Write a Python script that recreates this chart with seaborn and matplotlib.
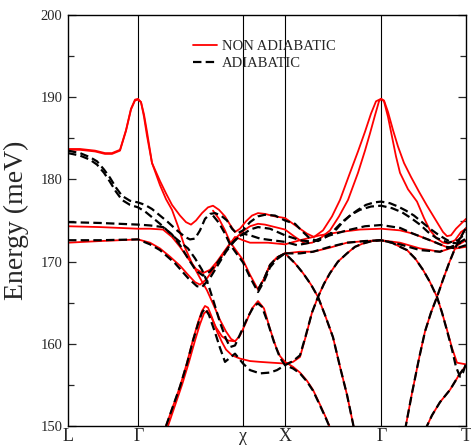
import numpy as np
import pandas as pd
import matplotlib
matplotlib.use("Agg")
import matplotlib.pyplot as plt
import seaborn as sns

# ---- k-path (positions along the path, in plot units) ----
kpoint_pos = [68, 138.3, 243.3, 284.7, 381.3, 466]
kpoint_labels = ["L", "Γ", "χ", "X", "Γ", "T"]
series_names = ["NON ADIABATIC", "ADIABATIC"]

# ---- NON ADIABATIC (red) bands ----
R1_x = [68,80,95,105,112,120,126,131,135,138,141,144,147,152,160,166,172,180,186,191,196,202,208,213,219,225,230,235,240,246,252,258,265,275,285,293,300,307,314,323,332,340,350,358,365,371,376,381,384,388,393,398,404,411,419,427,435,443,447,451,456,461,466]
R1_E = [183.7,183.7,183.5,183.2,183.2,183.6,186.0,188.6,189.7,189.8,189.4,187.9,185.8,182.0,179.8,178.3,176.9,175.6,174.8,174.5,175.0,175.9,176.6,176.8,176.3,175.5,174.5,173.6,174.0,174.9,175.6,175.9,175.8,175.5,175.3,174.6,174.0,173.4,173.0,173.8,175.5,177.5,180.8,183.4,185.8,188.0,189.5,189.8,189.6,188.2,186.0,184.0,182.0,180.3,178.5,176.8,175.2,173.6,173.1,173.2,174.0,174.6,175.2]

R2_x = [68,80,95,105,112,120,126,131,135,138,141,144,147,152,160,166,172,178,185,192,200,207,214,220,226,231,235,240,246,252,258,264,270,276,280,285,293,300,307,313,320,326,331]
R2_E = [183.6,183.6,183.4,183.1,183.1,183.5,185.9,188.5,189.6,189.7,189.4,187.6,185.3,182.0,179.3,177.6,176.3,174.3,171.7,169.8,168.0,166.5,164.6,162.9,161.5,160.6,160.3,161.0,162.6,164.3,165.2,164.3,161.8,159.6,158.5,157.8,157.2,156.5,155.5,154.4,152.6,151.0,149.5]

R3_x = [68,100,138,150,163,172,180,188,196,203,210,217,224,230,237,243,250,258,265,275,285,295,305,312,320,330,339,348,358,365,370,375,379,381,384,388,392,396,400,408,417,424,430,437,443,448,455,461,466]
R3_E = [174.3,174.2,174.0,174.0,173.9,173.0,171.8,170.4,169.1,168.6,169.0,170.0,171.2,172.2,173.0,173.7,174.3,174.6,174.5,174.2,173.9,173.0,172.2,172.3,172.8,173.8,175.5,177.5,180.8,183.5,185.6,187.8,189.5,189.8,189.5,187.6,185.2,182.8,180.8,178.8,177.3,175.3,173.8,172.8,172.3,172.2,172.6,173.6,174.0]

R4_x = [68,100,138,150,160,170,180,188,195,200,206,213,220,228,235,243,250,258,268,285,300,320,340,360,381,400,413,430,446,456,466]
R4_E = [172.3,172.5,172.7,172.3,171.6,170.6,169.5,168.4,167.5,167.2,167.8,169.0,170.3,171.8,173.0,172.6,172.3,172.3,172.3,172.1,172.6,173.2,173.6,173.9,174.0,173.8,173.4,172.6,171.8,171.6,171.8]

R5_x = [213,219,225,230,237,243,250,258,264,270,277,285]
R5_E = [176.2,175.2,173.8,172.4,171.2,170.2,168.4,166.6,167.9,169.6,170.5,171.0]

R5b_x = [285,300,313,330,347,365,381,400,420,440,455,466]
R5b_E = [171.0,171.2,171.2,171.7,172.3,172.5,172.6,172.3,171.6,171.2,171.8,172.6]

R10b_x = [168,175,182,189,195,200,204,207,211,216,222,228,235]
R10b_E = [150.0,152.5,155.0,157.8,160.4,162.4,163.7,164.0,163.3,162.0,160.9,160.4,160.3]

SA_x = [166,173,180,187,193,198,202,205,208,212,217,222,226,232,240,250,260,272,285,293,300,306,312,318,324,330,338,347,355,363,372,381,392,400,407,415,423,430,437,442,447,452,457,466]
SA_E = [150.0,152.4,154.8,157.7,160.5,162.6,164.0,164.6,164.4,163.2,161.5,160.2,159.3,158.6,158.2,157.9,157.8,157.7,157.6,157.8,158.4,161.0,163.8,165.7,167.3,168.6,170.0,171.0,171.8,172.2,172.5,172.6,172.3,171.8,171.4,170.4,169.0,167.5,165.7,163.8,161.7,159.5,157.7,157.5]

# ---- bands shared by both calculations ----
D1_x = [258,264,270,277,285,295,303,311,318,325,333,340,347,353,355]
D1_E = [166.6,167.9,169.6,170.5,171.0,169.8,168.6,167.2,165.7,163.5,160.8,157.2,153.8,150.3,149.0]

R7_x = [405,412,419,425,431,437,443,449,454,459,466]
R7_E = [149.5,154.0,158.2,161.5,163.8,165.7,167.8,169.8,171.3,172.6,174.1]

R9_x = [425,432,440,450,458,466]
R9_E = [149.5,151.3,152.9,154.4,156.0,157.4]

# ---- ADIABATIC (black) bands ----
B1_x = [68,80,90,97,104,110,116,122,130,138,145,152,160,168,176,185,190,195,200,205,210,215,221,227,232,237,243,250,258,265,275,285,295,303,310,318,326,334,342,350,358,366,374,381,390,398,406,414,422,430,438,446,452,458,466]
B1_E = [183.5,183.2,182.7,182.2,181.2,180.2,179.0,178.0,177.4,177.2,176.9,176.4,175.6,174.8,173.9,173.0,172.7,172.8,173.8,175.2,175.8,175.9,175.6,175.0,174.0,173.4,173.8,174.8,175.5,175.7,175.6,175.0,174.6,173.6,172.8,172.5,173.0,173.8,174.8,175.6,176.3,176.9,177.2,177.3,177.1,176.7,176.2,175.6,174.8,174.0,173.3,172.7,172.3,172.2,172.5]

B2_x = [68,80,90,97,104,110,116,122,130,138,145,152,160,168,176,188,195,202,208,214,220,226,230,235,241,248,254,258,262,268,274,280,285,293,300,307,313,320,326,331]
B2_E = [183.2,182.9,182.4,181.8,180.8,179.7,178.5,177.5,176.9,176.6,176.1,175.4,174.6,173.7,172.8,171.6,170.4,169.0,167.3,165.0,162.6,160.6,159.6,159.8,161.4,163.3,164.6,164.9,164.5,162.5,160.2,158.3,157.4,157.0,156.4,155.4,154.3,152.5,150.9,149.5]

B3_x = [68,100,138,150,163,172,180,188,196,203,210,217,224,230,237,243,250,258,270,285,300,313,330,347,365,381,400,413,430,446,456,466]
B3_E = [174.8,174.7,174.5,174.4,174.2,173.3,172.0,170.4,168.9,168.3,168.8,169.8,171.0,172.0,172.8,173.3,173.9,174.2,174.0,173.2,172.6,172.4,173.2,173.8,174.3,174.45,174.1,173.4,172.6,171.8,171.6,172.0]

B4_x = [68,100,138,150,160,175,188,197,202,210,218,226,235,243,250,260,272,285,297,310,322,334,342,351,360,371,381,392,402,411,420,428,436,448,458,466]
B4_E = [172.6,172.6,172.7,172.1,171.4,169.8,168.0,167.0,166.9,168.0,169.6,171.2,172.6,173.4,173.2,172.8,172.6,172.4,172.0,172.3,172.9,173.6,174.7,175.7,176.3,176.7,176.8,176.5,176.0,175.3,174.5,173.6,172.9,172.3,172.6,173.5]

B5_x = [213,219,225,230,237,243,250,258,264,270,277,285]
B5_E = [175.6,174.7,173.4,172.1,170.9,169.9,168.1,166.3,167.6,169.3,170.3,171.0]

B5b_x = [285,300,313,330,347,365,381,400,420,440,455,466]
B5b_E = [171.0,171.0,171.2,171.8,172.3,172.5,172.6,172.1,171.4,171.2,172.0,172.8]

BSA_x = [166,173,180,187,193,198,202,205,209,215,220,225,230,235,243,250,260,270,277,285,293,300,306,312,318,324,330,338,347,355,363,372,381,392,400,407,415,423,430,437,442,447,452,456,460,463,466]
BSA_E = [150.0,152.4,154.8,157.6,160.4,162.4,163.8,164.3,163.5,161.4,159.5,157.8,158.3,158.8,157.6,156.8,156.4,156.5,156.8,157.4,157.9,158.6,161.1,163.8,165.7,167.3,168.6,170.0,171.0,171.8,172.2,172.5,172.6,172.3,171.8,171.4,170.4,169.0,167.5,165.7,163.8,161.6,159.3,157.2,156.0,156.5,157.6]

red_bands = {"R1": (R1_x, R1_E), "R2": (R2_x, R2_E), "R3": (R3_x, R3_E),
             "R4": (R4_x, R4_E), "R5": (R5_x, R5_E), "R5b": (R5b_x, R5b_E),
             "R10b": (R10b_x, R10b_E), "SA": (SA_x, SA_E),
             "D1": (D1_x, D1_E), "R7": (R7_x, R7_E), "R9": (R9_x, R9_E)}
black_bands = {"B1": (B1_x, B1_E), "B2": (B2_x, B2_E), "B3": (B3_x, B3_E),
               "B4": (B4_x, B4_E), "B5": (B5_x, B5_E), "B5b": (B5b_x, B5b_E),
               "BSA": (BSA_x, BSA_E),
               "D1": (D1_x, D1_E), "R7": (R7_x, R7_E), "R9": (R9_x, R9_E)}

frames = []
for series, bands in zip(series_names, [red_bands, black_bands]):
    for name, (xs, es) in bands.items():
        frames.append(pd.DataFrame({"k": xs, "E": es, "series": series,
                                    "band": series + "_" + name}))
df = pd.concat(frames, ignore_index=True)

sns.set_style("ticks")
plt.rcParams["font.family"] = ["Liberation Serif", "DejaVu Serif"]

fig = plt.figure(figsize=(4.71, 4.47), dpi=100)
ax = fig.add_axes([68/471, 1-426/447, 398/471, 411/447])

sns.lineplot(data=df, x="k", y="E", hue="series", style="series", size="series",
             units="band", estimator=None, sort=False, ax=ax,
             hue_order=series_names, style_order=series_names, size_order=series_names,
             palette={"NON ADIABATIC": "#ff0000", "ADIABATIC": "#000000"},
             dashes={"NON ADIABATIC": "", "ADIABATIC": (3.8, 1.9)},
             sizes={"NON ADIABATIC": 1.3, "ADIABATIC": 1.6})

for p in kpoint_pos[1:-1]:
    ax.axvline(p, color="black", lw=0.8, zorder=0)

ax.set_xlim(kpoint_pos[0], kpoint_pos[-1])
ax.set_ylim(150, 200)
ax.set_xticks(kpoint_pos)
ax.set_xticklabels(kpoint_labels, fontsize=13)
ax.set_yticks([150, 160, 170, 180, 190, 200])
ax.set_yticks([155, 165, 175, 185, 195], minor=True)
ax.tick_params(axis="y", which="major", direction="in", length=6, width=0.9,
               labelsize=10.5, pad=4, left=True, right=True)
ax.tick_params(axis="y", which="minor", direction="in", length=4, width=0.9,
               left=True, right=True)
ax.tick_params(axis="x", length=0, pad=1.5)
for s in ax.spines.values():
    s.set_linewidth(1.0)
    s.set_color("black")
ax.set_xlabel("")
ax.set_ylabel("Energy (meV)", fontsize=20, labelpad=8)

handles, labels = ax.get_legend_handles_labels()
keep = [(h, l) for h, l in zip(handles, labels) if l in series_names]
ax.legend([h for h, _ in keep], [l for _, l in keep], loc="upper left",
          bbox_to_anchor=(0.315, 0.94), frameon=False, fontsize=10.5,
          handlelength=1.6, handletextpad=0.35, labelspacing=0.25,
          borderpad=0, borderaxespad=0)

fig.savefig("out.png", dpi=100)
